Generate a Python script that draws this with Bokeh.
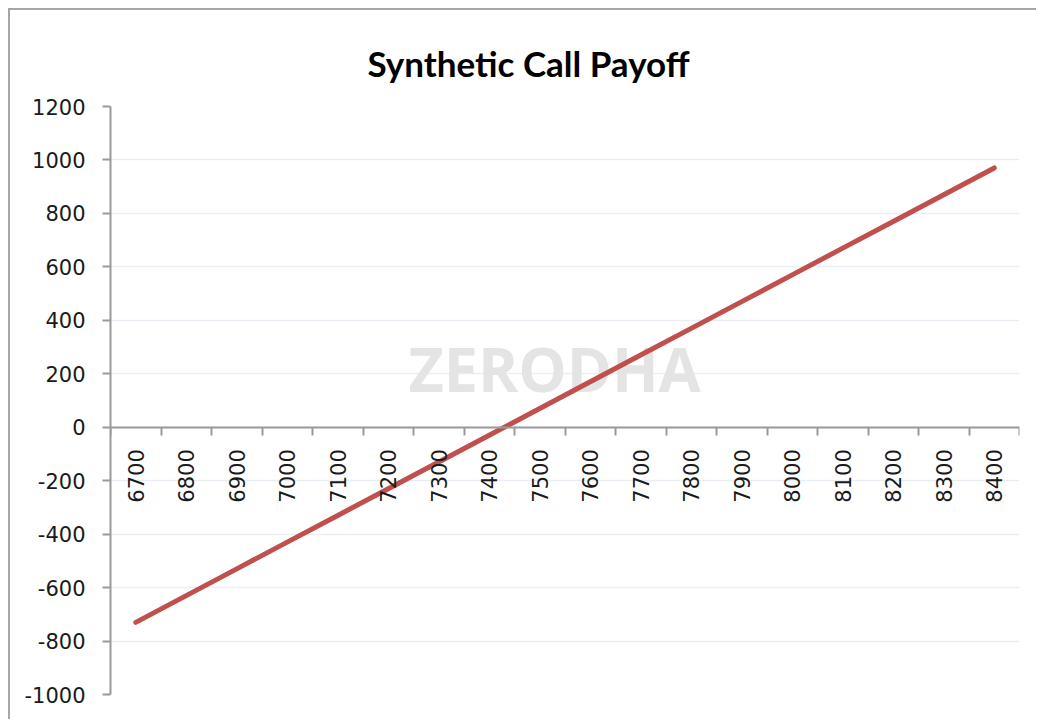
from bokeh.plotting import figure
from bokeh.models import Range1d, FixedTicker, Label
from bokeh.embed import file_html
from bokeh.resources import INLINE
import math

title_text = "Synthetic Call Payoff"
strikes = ["6700", "6800", "6900", "7000", "7100", "7200", "7300", "7400", "7500",
           "7600", "7700", "7800", "7900", "8000", "8100", "8200", "8300", "8400"]
payoff = [-730, -630, -530, -430, -330, -230, -130, -30, 70,
          170, 270, 370, 470, 570, 670, 770, 870, 970]
y_ticks = [-1000, -800, -600, -400, -200, 0, 200, 400, 600, 800, 1000, 1200]

n = len(strikes)
centers = [i + 0.5 for i in range(n)]
bounds = [i for i in range(n + 1)]

p = figure(width=1028, height=711, output_backend="svg", toolbar_location=None,
           x_range=Range1d(0, n), y_range=Range1d(-1000, 1200),
           min_border_left=100, min_border_right=19, min_border_top=96, min_border_bottom=27,
           title=title_text)
p.styles = {"border-left": "2px solid #a6a6a6", "border-top": "2px solid #a6a6a6",
            "margin-left": "8px", "margin-top": "8px"}
p.outline_line_color = None
p.background_fill_color = "white"
p.border_fill_color = "white"

p.title.align = "left"
p.title.offset = 257
p.title.vertical_align = "middle"
p.title.standoff = 44
p.title.text_font = "Lato"
p.title.text_font_style = "bold"
p.title.text_font_size = "35px"
p.title.text_color = "black"

# grid
p.xgrid.visible = False
p.ygrid.ticker = FixedTicker(ticks=y_ticks)
p.ygrid.grid_line_color = "#e9eef5"
p.ygrid.grid_line_width = 1.5

# y axis
p.yaxis.ticker = FixedTicker(ticks=y_ticks)
p.yaxis.major_label_overrides = {t: str(t) for t in y_ticks}
p.yaxis.axis_line_color = "#9a9a9a"
p.yaxis.axis_line_width = 2
p.yaxis.major_tick_line_color = "#9a9a9a"
p.yaxis.major_tick_line_width = 2
p.yaxis.major_tick_in = 0
p.yaxis.major_tick_out = 8
p.yaxis.minor_tick_line_color = None
p.yaxis.major_label_text_font = "DejaVu Sans"
p.yaxis.major_label_text_font_size = "21px"
p.yaxis.major_label_text_color = "#1a1a1a"
p.yaxis.major_label_standoff = 17

# x axis crossing at zero
p.xaxis.fixed_location = 0
p.xaxis.ticker = FixedTicker(ticks=centers, minor_ticks=bounds)
p.xaxis.major_label_overrides = {c: s for c, s in zip(centers, strikes)}
p.xaxis.major_tick_line_color = None
p.xaxis.minor_tick_line_color = "#9a9a9a"
p.xaxis.minor_tick_line_width = 2
p.xaxis.minor_tick_in = 0
p.xaxis.minor_tick_out = 8
p.xaxis.axis_line_color = "#9a9a9a"
p.xaxis.axis_line_width = 2
p.xaxis.major_label_orientation = math.pi / 2
p.xaxis.major_label_text_font = "DejaVu Sans"
p.xaxis.major_label_text_font_size = "21px"
p.xaxis.major_label_text_color = "#1a1a1a"
p.xaxis.major_label_standoff = 14

# watermark
wm = Label(x=5.9, y=220, text="ZERODHA", text_font="Open Sans", text_font_size="61px",
           text_font_style="bold", text_color="#e4e4e4", text_baseline="middle",
           text_align="left", level="underlay")
p.add_layout(wm)

p.line(centers, payoff, line_color="#c0504d", line_width=5, line_cap="round")

open("out.html", "w").write(file_html(p, INLINE))
